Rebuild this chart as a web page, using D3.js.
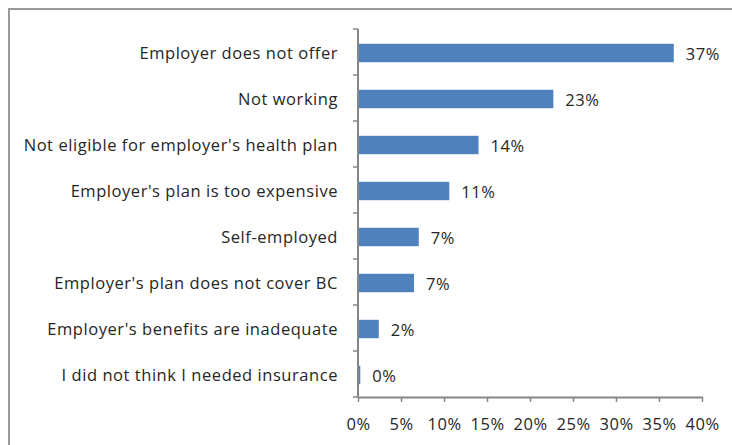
<!DOCTYPE html>
<html><head><meta charset="utf-8">
<script src="https://cdn.jsdelivr.net/npm/d3@7"></script>
<style>body{margin:0;background:#fff}svg{display:block}</style>
</head><body>
<script>
const categories = ["Employer does not offer","Not working","Not eligible for employer's health plan","Employer's plan is too expensive","Self-employed","Employer's plan does not cover BC","Employer's benefits are inadequate","I did not think I needed insurance"];
const values = [36.6, 22.6, 13.9, 10.5, 6.95, 6.4, 2.3, 0.15];
const valueLabels = ["37%","23%","14%","11%","7%","7%","2%","0%"];
const xTicks = [0,5,10,15,20,25,30,35,40];

const W = 732, H = 445;
const svg = d3.select("body").append("svg").attr("width", W).attr("height", H);
const font = "'Open Sans', sans-serif";
const textColor = "#262626";
const fs = 16.5;
const ls = "0.55px";

svg.append("rect").attr("x", 9).attr("y", 9).attr("width", 740).attr("height", 460)
  .attr("fill", "none").attr("stroke", "#9a9a9a").attr("stroke-width", 2);

const x = d3.scaleLinear().domain([0, 40]).range([358, 702]);
const y = d3.scaleBand().domain(categories).range([29, 397]).paddingInner(0.6).paddingOuter(0.3);
const yTicks = d3.scaleBand().domain(categories).range([29, 397]);

svg.selectAll("rect.bar").data(categories).enter().append("rect").attr("class","bar")
  .attr("x", x(0)+1).attr("y", d => y(d)+1).attr("height", y.bandwidth())
  .attr("width", (d,i) => Math.max(0, x(values[i]) - x(0)))
  .attr("fill", "#4F81BD");

svg.selectAll("text.val").data(categories).enter().append("text").attr("class","val")
  .attr("x", (d,i) => x(values[i]) + 13).attr("y", d => y(d) + y.bandwidth()/2 + 2)
  .attr("dy", "0.35em").attr("font-family", font).attr("font-size", fs).attr("letter-spacing", ls).attr("fill", textColor)
  .text((d,i) => valueLabels[i]);

// y axis
const axisColor = "#868686";
svg.append("line").attr("x1", 358).attr("x2", 358).attr("y1", 29).attr("y2", 397)
  .attr("stroke", axisColor).attr("stroke-width", 2);
const yt = categories.map(c => yTicks(c)).concat([397]);
svg.selectAll("line.ytick").data(yt).enter().append("line").attr("class","ytick")
  .attr("x1", 353).attr("x2", 358).attr("y1", d => d).attr("y2", d => d)
  .attr("stroke", axisColor).attr("stroke-width", 1.5);
svg.selectAll("text.cat").data(categories).enter().append("text").attr("class","cat")
  .attr("x", 338).attr("y", d => y(d) + y.bandwidth()/2 + 1).attr("dy", "0.35em")
  .attr("text-anchor", "end").attr("font-family", font).attr("font-size", fs).attr("letter-spacing", ls).attr("fill", textColor)
  .text(d => d);

// x axis
const xAxis = d3.axisBottom(x).tickValues(xTicks).tickFormat(d => d + "%").tickSize(5).tickSizeOuter(0);
const gx = svg.append("g").attr("transform", "translate(0,397)").call(xAxis);
gx.select(".domain").attr("stroke", axisColor).attr("stroke-width", 2);
gx.selectAll(".tick line").attr("stroke", axisColor).attr("stroke-width", 1.5);
gx.selectAll(".tick text").attr("y", 21).attr("font-family", font).attr("font-size", fs).attr("letter-spacing", ls).attr("fill", textColor);
</script>
</body></html>
